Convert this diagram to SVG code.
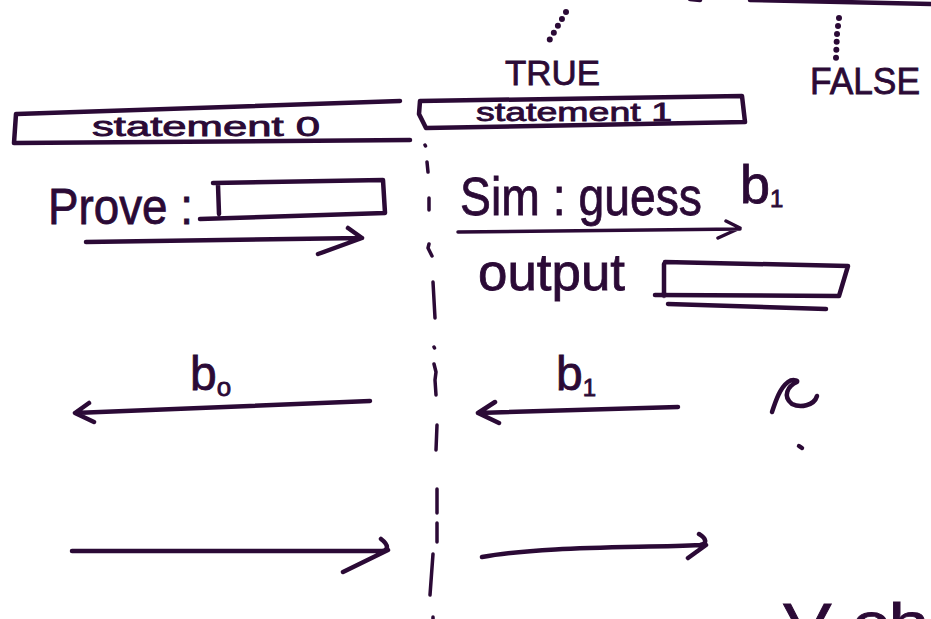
<svg xmlns="http://www.w3.org/2000/svg" width="931" height="619" viewBox="0 0 931 619">
<style>
.ink{fill:none;stroke:#2b0a36;stroke-width:4.5;stroke-linecap:round;stroke-linejoin:round}
.thin{stroke-width:3.5}
.dots{stroke-width:6;stroke-dasharray:0 8}
.t{fill:#2b0a36;stroke:#2b0a36;stroke-width:0.8;font-family:"Liberation Sans","DejaVu Sans",sans-serif}
</style>
<rect width="931" height="619" fill="#ffffff"/>

<g id="top-edge">
  <path class="ink" d="M750 0 L931 4"/>
  <path class="ink" d="M690 -1 L700 0"/>
</g>

<g id="true-label">
  <text class="t" x="505" y="85" font-size="35" textLength="95" lengthAdjust="spacingAndGlyphs">TRUE</text>
</g>
<g id="false-label">
  <text class="t" x="810" y="94" font-size="37" textLength="110" lengthAdjust="spacingAndGlyphs">FALSE</text>
</g>

<g id="statement0">
  <path class="ink" d="M17 114 L400 101 M16 114 L14 143 L410 140"/>
  <text class="t" x="92" y="136" font-size="27" textLength="228" lengthAdjust="spacingAndGlyphs">statement 0</text>
</g>

<g id="statement1">
  <path class="ink" d="M420 101 L742 96 L745 122 L426 128 L419 114 L420 101"/>
  <text class="t" x="476" y="121" font-size="26" textLength="196" lengthAdjust="spacingAndGlyphs">statement 1</text>
</g>

<g id="prove">
  <text class="t" x="48" y="224" font-size="50" textLength="145" lengthAdjust="spacingAndGlyphs">Prove :</text>
  <path class="ink" d="M213 183 L383 180 L385 213 L200 219 M218 185 L219 214"/>
</g>

<g id="sim">
  <text class="t" x="460" y="215" font-size="54" textLength="242" lengthAdjust="spacingAndGlyphs">Sim : guess</text>
  <text class="t" x="740" y="203" font-size="54">b<tspan font-size="24" dy="4">1</tspan></text>
</g>

<g id="output">
  <text class="t" x="478" y="290" font-size="52" textLength="147" lengthAdjust="spacingAndGlyphs">output</text>
  <path class="ink" d="M665 262 L848 266 L839 296 L655 295 M664 264 L664 296 M668 304 L826 309"/>
</g>

<g id="b0-label">
  <text class="t" x="190" y="390" font-size="48">b<tspan font-size="26" dy="6">o</tspan></text>
</g>
<g id="b1-label">
  <text class="t" x="556" y="390" font-size="48">b<tspan font-size="24" dy="6">1</tspan></text>
</g>

<g id="mark-c">
  <path class="ink" d="M772 412 C776 400 780 388 788 382 C792 379 798 380 797 382 C788 386 782 396 792 404 C800 408 814 406 817 396"/>
  <path class="ink" d="M799 446 L802 448"/>
</g>

<g id="bottom-fragment">
  <text class="t" x="783" y="642" font-size="56" textLength="146" lengthAdjust="spacingAndGlyphs">V ch</text>
</g>

<g id="connectors">
  <path class="ink dots" d="M566 12 L546 46"/>
  <path class="ink dots" d="M839 18 L837 34 L836 58"/>
  <path class="ink thin" d="M425 145 L425.5 146 M427 162 L428 172 M429 198 L429 210 M429 244 L428 248 L432 256 M433 282 L435 318 M434 347 L434.5 348 M434 364 L436 372 L435 380 L436 395 M437 425 L436 450 M437 489 L437 513 M437 523 L437 542 M433 554 L430 595 M433 617 L433 619"/>
  <path class="ink" d="M86 242 L362 238 M348 228 L362 238 L318 254"/>
  <path class="ink thin" d="M458 232 L740 229 M726 221 L740 228 L718 238"/>
  <path class="ink" d="M370 401 L75 413 M89 403 L75 413 L94 422"/>
  <path class="ink" d="M678 407 L478 413 M495 402 L478 413 L499 423"/>
  <path class="ink" d="M72 551 L380 551 C388 551 390 546 381 539 M388 550 L343 572"/>
  <path class="ink" d="M482 557 C540 546 640 548 700 545 C708 544 706 538 699 534 M706 545 L688 558"/>
</g>
</svg>
